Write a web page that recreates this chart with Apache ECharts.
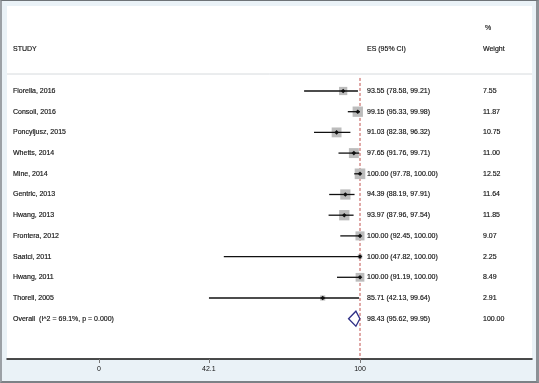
<!DOCTYPE html>
<html>
<head>
<meta charset="utf-8">
<script src="https://cdn.jsdelivr.net/npm/echarts@6/dist/echarts.min.js"></script>
<style>
html,body{margin:0;padding:0;background:#eaf2f7;}
#wrap{position:relative;width:539px;height:383px;}
#chart{position:absolute;left:0;top:0;width:539px;height:383px;}
#frame{position:absolute;left:0;top:0;width:539px;height:383px;box-sizing:border-box;
  border-top:1px solid #6e7377;border-left:2px solid #9ca1a6;border-right:3px solid #8c9196;border-bottom:2px solid #7c8186;pointer-events:none;}
</style>
</head>
<body>
<div id="wrap"><div id="chart"></div><div id="frame"></div></div>
<script>
// ---- data ----
const studies = ["Fiorella, 2016","Consoli, 2016","Poncyljusz, 2015","Whetts, 2014","Mine, 2014","Gentric, 2013","Hwang, 2013","Frontera, 2012","Saatci, 2011","Hwang, 2011","Thorell, 2005"];
const es     = [93.55, 99.15, 91.03, 97.65, 100.00, 94.39, 93.97, 100.00, 100.00, 100.00, 85.71];
const ciLow  = [78.58, 95.33, 82.38, 91.76, 97.78, 88.19, 87.96, 92.45, 47.82, 91.19, 42.13];
const ciHigh = [99.21, 99.98, 96.32, 99.71, 100.00, 97.91, 97.54, 100.00, 100.00, 100.00, 99.64];
const weights = [7.55, 11.87, 10.75, 11.00, 12.52, 11.64, 11.85, 9.07, 2.25, 8.49, 2.91];
const overallLabel = "Overall  (I^2 = 69.1%, p = 0.000)";
const overallES = 98.43, overallLow = 95.62, overallHigh = 99.95, overallWeight = 100.00;
const tickValues = [0, 42.1, 100];
const nullValue = 100;

// ---- chart ----
const labels = studies.concat([overallLabel]);
const rows = [];
for (let i = 0; i < studies.length; i++) rows.push([i, es[i], ciLow[i], ciHigh[i], weights[i], 0]);
rows.push([studies.length, overallES, overallLow, overallHigh, overallWeight, 1]);

const FONT = '"Liberation Sans", Arial, sans-serif';
const TXT = '#111111';
const COL_STUDY = 13, COL_ES = 367, COL_W = 483;

function txt(x, y, s) {
  return {type:'text', x:x, y:y, style:{text:s, fill:TXT, stroke:TXT, lineWidth:0.15, font:'7px ' + FONT, textVerticalAlign:'middle', textAlign:'left'}};
}

const chart = echarts.init(document.getElementById('chart'), null, {renderer:'canvas'});
chart.setOption({
  backgroundColor: '#eaf2f7',
  animation: false,
  grid: {left: 7, right: 7, top: 6, bottom: 24, show: true, backgroundColor: '#ffffff', borderWidth: 0},
  xAxis: {
    type: 'value', min: -35.249, max: 165.9,
    splitLine: {show: false},
    axisLine: {show: true, onZero: false, lineStyle: {color: '#111', width: 1.5}},
    axisTick: {show: true, customValues: tickValues, length: 4, lineStyle: {color: '#777', width: 1}},
    axisLabel: {show: true, customValues: tickValues, margin: 7, fontSize: 7, color: TXT, fontFamily: FONT,
      formatter: v => String(v)}
  },
  yAxis: {type: 'value', inverse: true, min: -4.106, max: 12.947, show: false},
  graphic: [
    {type:'line', shape:{x1:7, y1:74, x2:532, y2:74}, style:{stroke:'#d6dadd', lineWidth:1}, z: 1},
    txt(COL_STUDY, 49, 'STUDY'),
    txt(COL_ES, 49, 'ES (95% CI)'),
    txt(485, 28, '%'),
    txt(COL_W, 49, 'Weight')
  ],
  series: [
    {
      type: 'line', data: [[nullValue, -0.63], [nullValue, 12.947]], symbol: 'none', silent: true,
      lineStyle: {color: '#c0504d', width: 1, type: [3, 2]}, z: 1
    },
    {
      type: 'custom', data: rows, encode: {x: [1, 2, 3], y: 0}, z: 3,
      renderItem: function (params, api) {
        const row = api.value(0), e = api.value(1), lo = api.value(2), hi = api.value(3), w = api.value(4), ov = api.value(5);
        const pE = api.coord([e, row]), pL = api.coord([lo, row]), pH = api.coord([hi, row]);
        const y = pE[1];
        const children = [];
        if (ov) {
          const h = 7.5;
          children.push({type:'polygon', shape:{points:[[pL[0], y], [pE[0], y - h], [pH[0], y], [pE[0], y + h]]},
            style:{fill:'#ffffff', stroke:'#2e2f86', lineWidth:1.3}, z2: 5});
        } else {
          const s = 3.0 * Math.sqrt(w);
          children.push({type:'rect', shape:{x:pE[0] - s/2, y:y - s/2, width:s, height:s}, style:{fill:'#bcbcbc'}});
          children.push({type:'line', shape:{x1:pL[0], y1:y, x2:pH[0], y2:y}, style:{stroke:'#111', lineWidth:1.3}});
          const d = 2.3;
          children.push({type:'polygon', shape:{points:[[pE[0]-d, y], [pE[0], y-d], [pE[0]+d, y], [pE[0], y+d]]}, style:{fill:'#111'}});
        }
        children.push(txt(COL_STUDY, y, labels[params.dataIndex]));
        children.push(txt(COL_ES, y, e.toFixed(2) + ' (' + lo.toFixed(2) + ', ' + hi.toFixed(2) + ')'));
        children.push(txt(COL_W, y, w.toFixed(2)));
        return {type:'group', children: children};
      }
    }
  ]
});
</script>
</body>
</html>
